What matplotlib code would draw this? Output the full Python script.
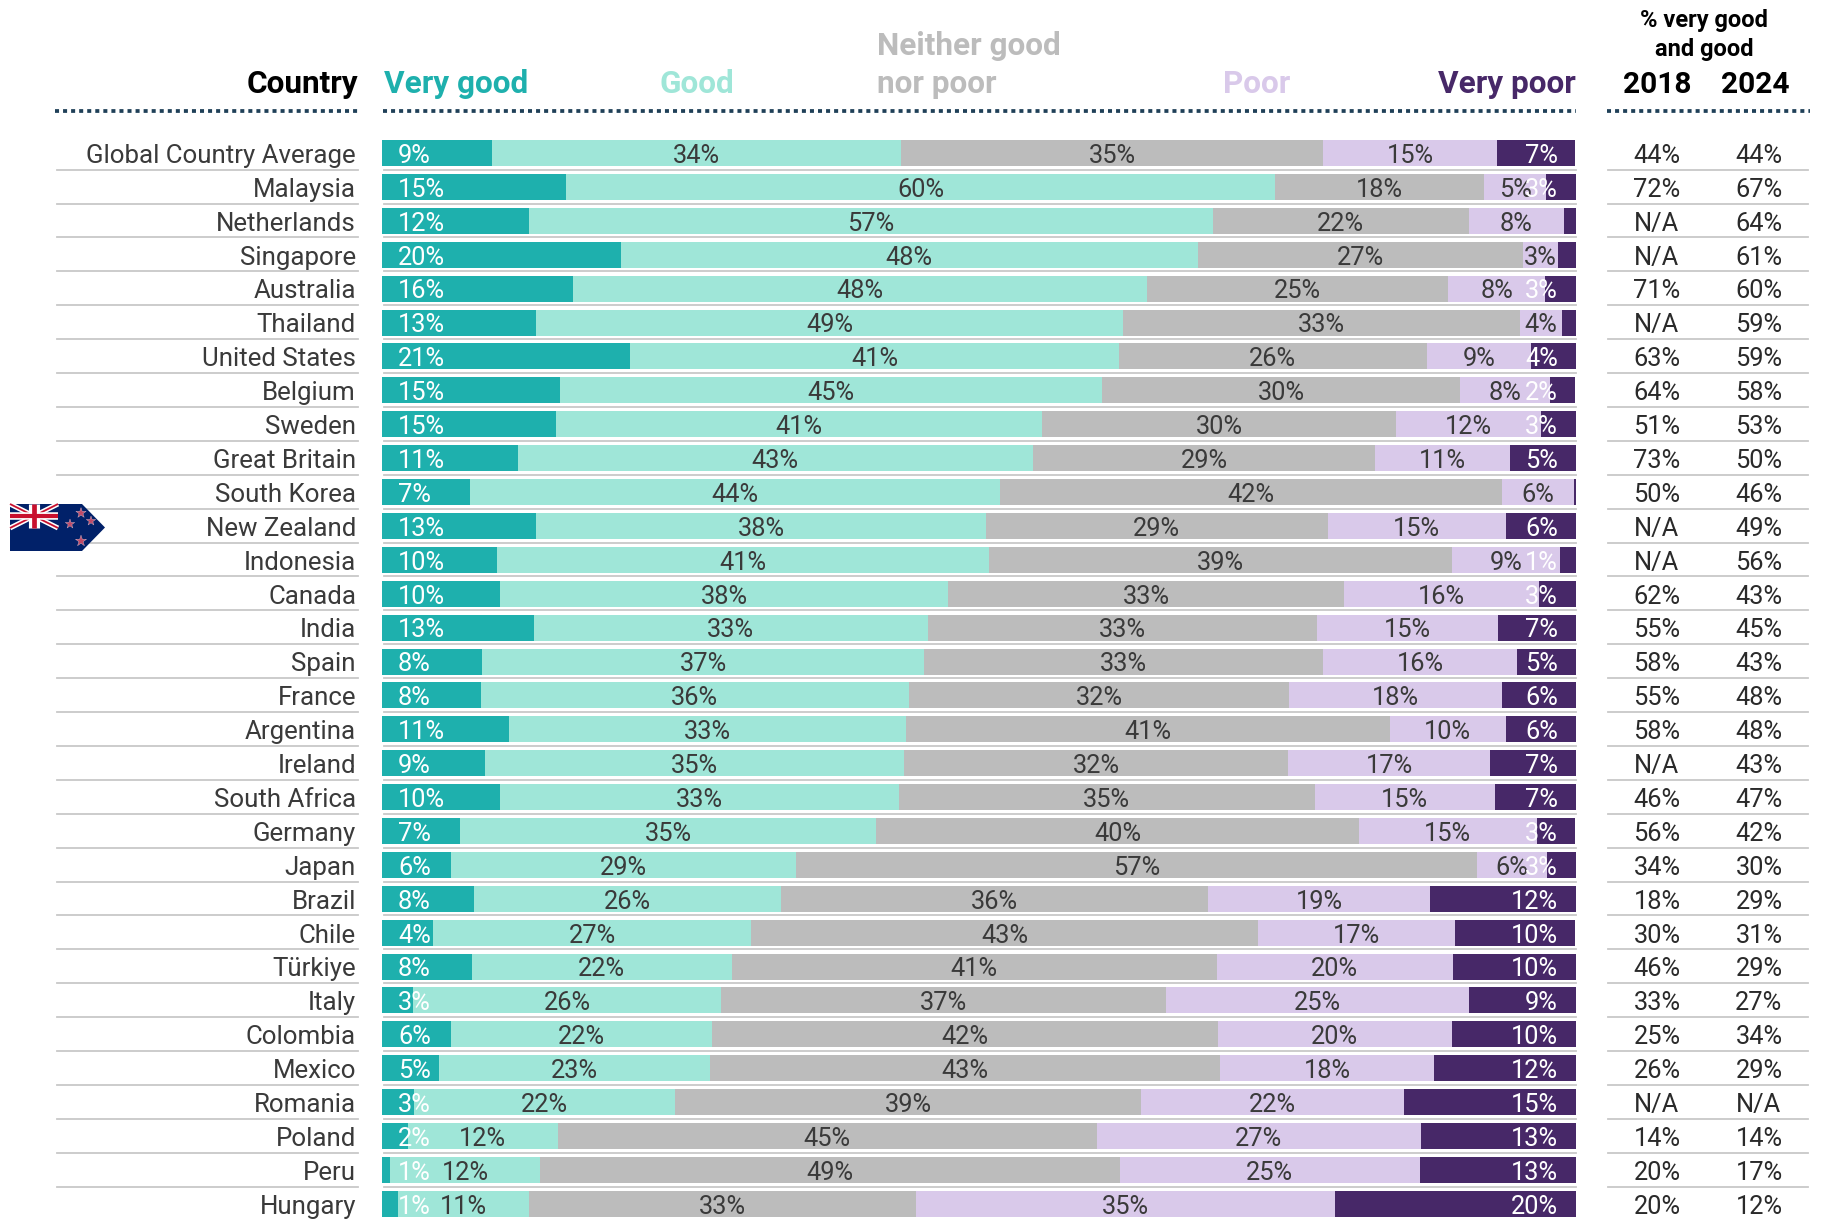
import matplotlib
matplotlib.use("Agg")
import matplotlib.pyplot as plt
import numpy as np
from matplotlib.patches import Polygon
from matplotlib.transforms import blended_transform_factory

plt.rcParams['font.family'] = ['Roboto', 'DejaVu Sans']
plt.rcParams['lines.scale_dashes'] = False

countries = ["Global Country Average", "Malaysia", "Netherlands", "Singapore", "Australia", "Thailand",
             "United States", "Belgium", "Sweden", "Great Britain", "South Korea", "New Zealand",
             "Indonesia", "Canada", "India", "Spain", "France", "Argentina", "Ireland", "South Africa",
             "Germany", "Japan", "Brazil", "Chile", "Türkiye", "Italy", "Colombia", "Mexico",
             "Romania", "Poland", "Peru", "Hungary"]

# Bar lengths
very_good = [9.2, 15.4, 12.3, 20.0, 16.0, 12.9, 20.8, 14.9, 14.6, 11.4, 7.4, 12.9, 9.6, 9.9, 12.7, 8.4,
             8.3, 10.6, 8.6, 9.9, 6.5, 5.8, 7.7, 4.3, 7.5, 2.6, 5.8, 4.8, 2.7, 2.2, 0.7, 1.3]
good = [34.3, 59.4, 57.3, 48.3, 48.1, 49.2, 40.9, 45.4, 40.7, 43.1, 44.4, 37.7, 41.2, 37.5, 33.0, 37.0,
        35.8, 33.3, 35.1, 33.4, 34.9, 28.9, 25.7, 26.6, 21.8, 25.8, 21.8, 22.7, 21.8, 12.5, 12.5, 11.0]
neither = [35.3, 17.5, 21.4, 27.3, 25.2, 33.2, 25.8, 30.0, 29.6, 28.7, 42.0, 28.6, 38.8, 33.2, 32.6, 33.4,
           31.9, 40.5, 32.2, 34.8, 40.4, 57.0, 35.8, 42.5, 40.6, 37.3, 42.4, 42.7, 39.1, 45.2, 48.6, 32.4]
poor = [14.6, 5.2, 8.0, 2.9, 8.1, 3.5, 8.7, 7.5, 12.2, 11.3, 6.0, 14.9, 9.1, 16.3, 15.2, 16.3,
        17.8, 9.7, 16.9, 15.1, 14.9, 5.9, 18.6, 16.5, 19.8, 25.3, 19.6, 17.9, 22.0, 27.1, 25.1, 35.1]
very_poor = [6.5, 2.5, 1.1, 1.5, 2.6, 1.3, 3.9, 2.1, 2.9, 5.5, 0.2, 6.0, 1.4, 3.2, 6.5, 5.0,
             6.2, 6.0, 7.2, 6.8, 3.2, 2.5, 12.2, 10.0, 10.3, 9.1, 10.4, 11.9, 14.4, 13.0, 13.2, 20.2]

# Printed labels
very_good_lab = [9, 15, 12, 20, 16, 13, 21, 15, 15, 11, 7, 13, 10, 10, 13, 8,
                 8, 11, 9, 10, 7, 6, 8, 4, 8, 3, 6, 5, 3, 2, 1, 1]
good_lab = [34, 60, 57, 48, 48, 49, 41, 45, 41, 43, 44, 38, 41, 38, 33, 37,
            36, 33, 35, 33, 35, 29, 26, 27, 22, 26, 22, 23, 22, 12, 12, 11]
neither_lab = [35, 18, 22, 27, 25, 33, 26, 30, 30, 29, 42, 29, 39, 33, 33, 33,
               32, 41, 32, 35, 40, 57, 36, 43, 41, 37, 42, 43, 39, 45, 49, 33]
poor_lab = [15, 5, 8, 3, 8, 4, 9, 8, 12, 11, 6, 15, 9, 16, 15, 16,
            18, 10, 17, 15, 15, 6, 19, 17, 20, 25, 20, 18, 22, 27, 25, 35]
very_poor_lab = [7, 3, None, None, 3, None, 4, 2, 3, 5, None, 6, 1, 3, 7, 5,
                 6, 6, 7, 7, 3, 3, 12, 10, 10, 9, 10, 12, 15, 13, 13, 20]

col_2018 = ["44%", "72%", "N/A", "N/A", "71%", "N/A", "63%", "64%", "51%", "73%", "50%", "N/A", "N/A", "62%", "55%", "58%",
            "55%", "58%", "N/A", "46%", "56%", "34%", "18%", "30%", "46%", "33%", "25%", "26%", "N/A", "14%", "20%", "20%"]
col_2024 = ["44%", "67%", "64%", "61%", "60%", "59%", "59%", "58%", "53%", "50%", "46%", "49%", "56%", "43%", "45%", "43%",
            "48%", "48%", "43%", "47%", "42%", "30%", "29%", "31%", "29%", "27%", "34%", "29%", "N/A", "14%", "17%", "12%"]

series = [very_good, good, neither, poor, very_poor]
colors = ['#1eb0ad', '#9fe6d8', '#bcbcbc', '#d9c9ea', '#472868']

W, H = 1826, 1221
fig = plt.figure(figsize=(W / 100, H / 100), dpi=100)

# Overlay in pixels for rules, header and flag
ov = fig.add_axes([0, 0, 1, 1])
ov.set_xlim(0, W)
ov.set_ylim(H, 0)
ov.axis('off')

# Bars
bar_left, bar_right = 382, 1576
row0, pitch = 153, 33.9
ax = fig.add_axes([bar_left / W, 0, (bar_right - bar_left) / W, 1])
ax.set_xlim(0, 100)
ax.set_ylim((H - row0) / pitch, -row0 / pitch)
ax.axis('off')
ax.patch.set_alpha(0)

y = np.arange(len(countries))
left = np.zeros(len(countries))
for vals, c in zip(series, colors):
    ax.barh(y, vals, left=left, height=26 / pitch, color=c, linewidth=0, zorder=2)
    left += np.array(vals)

base = 0.29  # baseline below row centre
txt_dark = '#3a3a3a'
fs = 18.3

# Bar labels
starts = np.cumsum([np.zeros(len(y))] + series[:-1], axis=0)
for i in y:
    ax.text(1.35, i + base, f"{very_good_lab[i]}%", color='white', fontsize=fs, ha='left', va='baseline', zorder=3)
    for k, labs in ((1, good_lab), (2, neither_lab), (3, poor_lab)):
        ax.text(starts[k][i] + series[k][i] / 2, i + base, f"{labs[i]}%", color=txt_dark, fontsize=fs,
                ha='center', va='baseline', zorder=3)
    if very_poor_lab[i] is not None:
        ax.text(98.5, i + base, f"{very_poor_lab[i]}%", color='white', fontsize=fs, ha='right', va='baseline', zorder=4)

# Row rules, country names and the two right columns
trans = blended_transform_factory(ov.transData, ax.transData)
for i in y:
    if i < len(countries) - 1:
        yy = i + 0.49
        ax.plot([57, 358], [yy, yy], color='#c8c8c8', lw=1.3, transform=trans, clip_on=False, zorder=1)
        ax.plot([384, 1576], [yy, yy], color='#c8c8c8', lw=1.3, transform=trans, clip_on=False, zorder=1)
        ax.plot([1608, 1808], [yy, yy], color='#c8c8c8', lw=1.3, transform=trans, clip_on=False, zorder=1)
    ax.text(356, i + base, countries[i], color=txt_dark, fontsize=18.6, ha='right', va='baseline', transform=trans)
    ax.text(1657, i + base, col_2018[i], color='#2a2a2a', fontsize=fs, ha='center', va='baseline', transform=trans)
    ax.text(1759, i + base, col_2024[i], color='#2a2a2a', fontsize=fs, ha='center', va='baseline', transform=trans)

# Dotted header rules
for x0, x1 in ((55, 358), (383, 1576), (1607, 1810)):
    ov.plot([x0, x1], [111, 111], color='#1f4058', lw=2.7, linestyle=(0, (2.9, 2.9)), dash_capstyle='butt')

# Header text
hs = 22.7
ov.text(358, 93, "Country", color='black', fontsize=hs, fontweight='bold', ha='right', va='baseline')
ov.text(384, 93, "Very good", color=colors[0], fontsize=hs, fontweight='bold', ha='left', va='baseline')
ov.text(697, 93, "Good", color=colors[1], fontsize=hs, fontweight='bold', ha='center', va='baseline')
ov.text(877, 55, "Neither good", color=colors[2], fontsize=hs, fontweight='bold', ha='left', va='baseline')
ov.text(877, 93, "nor poor", color=colors[2], fontsize=hs, fontweight='bold', ha='left', va='baseline')
ov.text(1257, 93, "Poor", color=colors[3], fontsize=hs, fontweight='bold', ha='center', va='baseline')
ov.text(1576, 93, "Very poor", color=colors[4], fontsize=hs, fontweight='bold', ha='right', va='baseline')
ov.text(1704, 27, "% very good", color='black', fontsize=17, fontweight='bold', ha='center', va='baseline')
ov.text(1704, 56, "and good", color='black', fontsize=17, fontweight='bold', ha='center', va='baseline')
ov.text(1657, 93, "2018", color='black', fontsize=21.5, fontweight='bold', ha='center', va='baseline')
ov.text(1755, 93, "2024", color='black', fontsize=21.5, fontweight='bold', ha='center', va='baseline')

# New Zealand flag marker, on its own axes above the rules
fl = fig.add_axes([0, 0, 1, 1])
fl.axis('off')
fl.patch.set_alpha(0)
fx0, fx1, fy0, fy1 = 10, 105, 504, 551
flag = Polygon([(fx0, fy0), (fx1 - 23, fy0), (fx1, (fy0 + fy1) / 2), (fx1 - 23, fy1), (fx0, fy1)],
               closed=True, facecolor='#012169', edgecolor='none', zorder=5)
fl.add_patch(flag)
cx0, cx1, cy0, cy1 = fx0, 58, fy0, 528
fl.plot([cx0, cx1], [cy0, cy1], color='white', lw=3.6, zorder=6, solid_capstyle='butt')
fl.plot([cx0, cx1], [cy1, cy0], color='white', lw=3.6, zorder=6, solid_capstyle='butt')
fl.plot([cx0, cx1], [cy0, cy1], color='#c8102e', lw=1.3, zorder=7, solid_capstyle='butt')
fl.plot([cx0, cx1], [cy1, cy0], color='#c8102e', lw=1.3, zorder=7, solid_capstyle='butt')
mx, my = (cx0 + cx1) / 2, (cy0 + cy1) / 2
fl.plot([cx0, cx1], [my, my], color='white', lw=5.4, zorder=8, solid_capstyle='butt')
fl.plot([mx, mx], [cy0, cy1], color='white', lw=8, zorder=8, solid_capstyle='butt')
fl.plot([cx0, cx1], [my, my], color='#c8102e', lw=3, zorder=9, solid_capstyle='butt')
fl.plot([mx, mx], [cy0, cy1], color='#c8102e', lw=3.4, zorder=9, solid_capstyle='butt')
fl.scatter([81, 70, 91, 81], [513, 524, 521, 541], marker='*', s=[60, 50, 50, 70], color='#c04a68',
           edgecolors='#d8b8c8', linewidths=0.3, zorder=10)
fl.set_xlim(0, W)
fl.set_ylim(H, 0)

fig.savefig("out.png", dpi=100, facecolor='white')
